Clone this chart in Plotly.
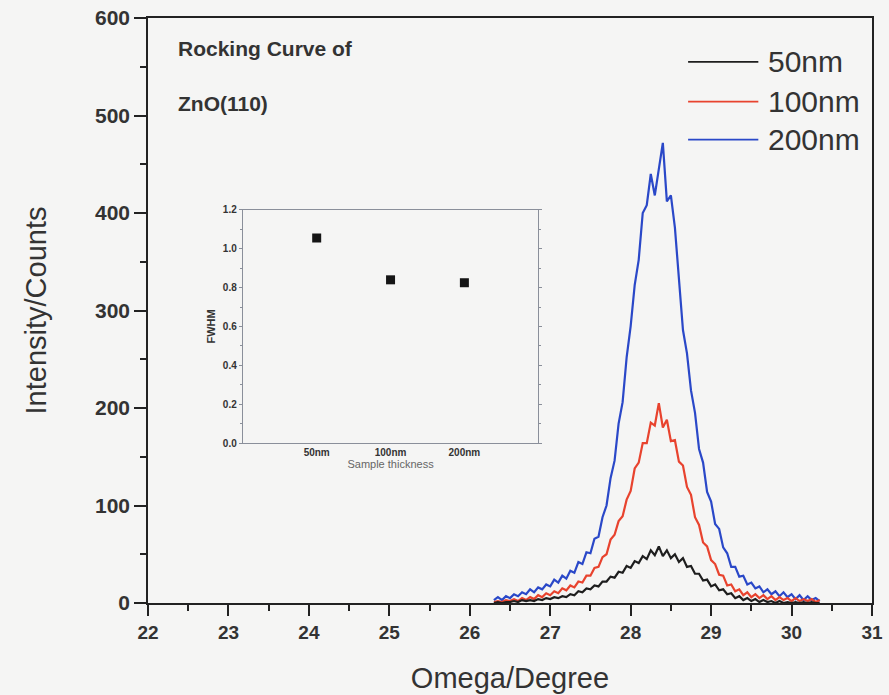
import plotly.graph_objects as go

# ---------------- data ----------------
omega = [26.30, 26.35, 26.40, 26.45, 26.50, 26.55, 26.60, 26.65, 26.70, 26.75,
         26.80, 26.85, 26.90, 26.95, 27.00, 27.05, 27.10, 27.15, 27.20, 27.25,
         27.30, 27.35, 27.40, 27.45, 27.50, 27.55, 27.60, 27.65, 27.70, 27.75,
         27.80, 27.85, 27.90, 27.95, 28.00, 28.05, 28.10, 28.15, 28.20, 28.25,
         28.30, 28.35, 28.40, 28.45, 28.50, 28.55, 28.60, 28.65, 28.70, 28.75,
         28.80, 28.85, 28.90, 28.95, 29.00, 29.05, 29.10, 29.15, 29.20, 29.25,
         29.30, 29.35, 29.40, 29.45, 29.50, 29.55, 29.60, 29.65, 29.70, 29.75,
         29.80, 29.85, 29.90, 29.95, 30.00, 30.05, 30.10, 30.15, 30.20, 30.25,
         30.30, 30.35]

counts_200nm = [3, 6, 3, 7, 5, 9, 7, 11, 9, 14,
                11, 16, 14, 19, 17, 24, 21, 28, 25, 33,
                31, 42, 40, 52, 51, 66, 68, 88, 100, 128,
                146, 184, 206, 252, 284, 326, 352, 400, 408, 440,
                418, 445, 472, 412, 418, 385, 336, 280, 256, 218,
                195, 158, 144, 114, 104, 81, 76, 57, 51, 37,
                37, 27, 28, 19, 21, 15, 17, 11, 14, 9,
                12, 7, 11, 6, 9, 4, 8, 3, 7, 3,
                5, 2]

counts_100nm = [1, 2, 1, 3, 2, 4, 2, 5, 3, 6,
                4, 8, 6, 10, 8, 12, 10, 15, 13, 18,
                16, 22, 21, 28, 28, 36, 37, 47, 50, 65,
                70, 84, 89, 106, 115, 138, 144, 164, 164, 185,
                182, 205, 180, 188, 166, 167, 145, 141, 119, 111,
                88, 80, 62, 58, 44, 40, 29, 28, 18, 19,
                12, 14, 8, 11, 6, 9, 5, 8, 4, 7,
                3, 6, 3, 5, 2, 5, 2, 4, 2, 4,
                1, 3]

counts_50nm = [0, 1, 0, 1, 1, 2, 1, 3, 2, 3,
               2, 4, 3, 5, 4, 6, 5, 7, 6, 9,
               8, 12, 11, 15, 14, 18, 17, 22, 22, 27,
               26, 32, 31, 38, 36, 43, 41, 48, 45, 54,
               49, 58, 48, 54, 46, 50, 42, 46, 37, 38,
               30, 30, 23, 24, 17, 19, 13, 14, 9, 10,
               5, 7, 3, 5, 2, 4, 1, 3, 1, 2,
               0, 2, 0, 1, 0, 1, 0, 1, 0, 1,
               0, 0]

series_names = ["50nm", "100nm", "200nm"]
series_colors = ["#1e1e1e", "#e8432e", "#2a48c8"]
series_values = [counts_50nm, counts_100nm, counts_200nm]

inset_thickness = ["50nm", "100nm", "200nm"]
inset_fwhm = [1.055, 0.84, 0.825]

x_ticks = [22, 23, 24, 25, 26, 27, 28, 29, 30, 31]
y_ticks = [0, 100, 200, 300, 400, 500, 600]
inset_y_ticks = [0.0, 0.2, 0.4, 0.6, 0.8, 1.0, 1.2]

# ---------------- figure ----------------
BG = "#f5f5f4"
FONT = "Liberation Sans"
TXT = "#333333"
INSET_LINE = "#8a8f9a"

fig = go.Figure()

# draw 200nm first, 50nm last (on top)
for name, color, vals in reversed(list(zip(series_names, series_colors, series_values))):
    fig.add_trace(go.Scatter(x=omega, y=vals, mode="lines", name=name,
                             line=dict(color=color, width=2.2),
                             showlegend=False, xaxis="x", yaxis="y"))

fig.add_trace(go.Scatter(x=inset_thickness, y=inset_fwhm, mode="markers",
                         marker=dict(symbol="square", size=9, color="#151515"),
                         showlegend=False, xaxis="x2", yaxis="y2"))

fig.update_layout(
    width=889, height=695,
    margin=dict(l=148, r=17, t=18, b=92),
    paper_bgcolor=BG, plot_bgcolor=BG,
    font=dict(family=FONT, color=TXT),
    xaxis=dict(range=[22, 31], tickvals=x_ticks, ticks="outside", ticklen=11,
               tickwidth=1.6, tickcolor="#222", showline=True, linecolor="#222",
               linewidth=1.6, mirror=True, showgrid=False, zeroline=False,
               automargin=False,
               minor=dict(dtick=0.5, ticks="outside", ticklen=6, tickwidth=1.6,
                          tickcolor="#222"),
               tickfont=dict(size=19, weight="bold", color=TXT),
               title=dict(text="Omega/Degree", font=dict(size=29, color=TXT),
                          standoff=26)),
    yaxis=dict(range=[0, 600], tickvals=y_ticks, ticks="outside", ticklen=12,
               tickwidth=1.6, tickcolor="#222", showline=True, linecolor="#222",
               linewidth=1.6, mirror=True, showgrid=False, zeroline=False,
               automargin=False,
               minor=dict(dtick=50, ticks="outside", ticklen=6, tickwidth=1.6,
                          tickcolor="#222"),
               tickfont=dict(size=21, weight="bold", color=TXT),
               title=dict(text="Intensity/Counts", font=dict(size=29, color=TXT),
                          standoff=40)),
    xaxis2=dict(domain=[0.131, 0.539], anchor="y2", type="category",
                categoryorder="array", categoryarray=inset_thickness,
                range=[-1, 3], showline=True, linecolor=INSET_LINE, linewidth=1.2,
                mirror=True, ticks="", showgrid=False, zeroline=False,
                automargin=False,
                tickfont=dict(size=10, weight="bold", color=TXT),
                title=dict(text="Sample thickness", font=dict(size=11, color="#666"),
                           standoff=1)),
    yaxis2=dict(domain=[0.2735, 0.672], anchor="x2", range=[0, 1.2],
                tickvals=inset_y_ticks, tickformat=".1f", ticks="outside",
                ticklen=3, tickcolor=INSET_LINE, showline=True, linecolor=INSET_LINE,
                linewidth=1.2, mirror="ticks", showgrid=False, zeroline=False,
                automargin=False,
                minor=dict(dtick=0.1, ticks="outside", ticklen=2, tickcolor=INSET_LINE),
                tickfont=dict(size=10, weight="bold", color=TXT),
                title=dict(text="FWHM", font=dict(size=11, weight="bold", color=TXT),
                           standoff=4)),
)

# chart title text
fig.add_annotation(x=0.039, y=0.948, xref="paper", yref="paper",
                   text="<b>Rocking Curve of</b>", showarrow=False,
                   xanchor="left", yanchor="middle",
                   font=dict(size=21, color=TXT))
fig.add_annotation(x=0.039, y=0.854, xref="paper", yref="paper",
                   text="<b>ZnO(110)</b>", showarrow=False,
                   xanchor="left", yanchor="middle",
                   font=dict(size=21, color=TXT))

# legend (drawn manually to match the long line samples)
legend_rows = [0.925, 0.857, 0.792]
for name, color, yrow in zip(series_names, series_colors, legend_rows):
    fig.add_shape(type="line", xref="paper", yref="paper",
                  x0=0.746, x1=0.843, y0=yrow, y1=yrow,
                  line=dict(color=color, width=1.8))
    fig.add_annotation(x=0.853, y=yrow, xref="paper", yref="paper",
                       text=name, showarrow=False, xanchor="left",
                       yanchor="middle", font=dict(size=30, color=TXT))

fig.write_html("out.html")
